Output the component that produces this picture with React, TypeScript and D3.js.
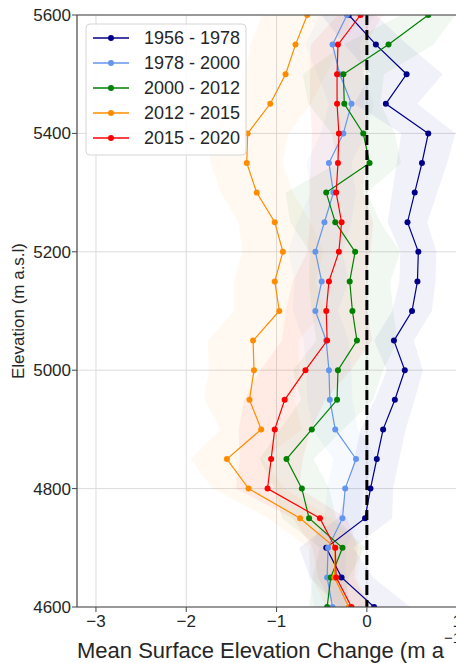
import * as d3 from 'd3';
import React from 'react';

const WIDTH = 456;
const HEIGHT = 663;
const MARGIN = { top: 15, left: 77, bottom: 56 };

// elevation bins, top to bottom (m a.s.l)
const elevations = [
  5600, 5550, 5500, 5450, 5400, 5350, 5300, 5250, 5200, 5150, 5100,
  5050, 5000, 4950, 4900, 4850, 4800, 4750, 4700, 4650, 4600,
];

const periods = ['1956 - 1978', '1978 - 2000', '2000 - 2012', '2012 - 2015', '2015 - 2020'];
const colors = ['#00008b', '#6495ed', '#008000', '#ff8c00', '#ff0000'];

const dh1956 = [-0.2, 0.1, 0.44, 0.21, 0.68, 0.61, 0.53, 0.45, 0.57, 0.56, 0.5, 0.3, 0.42, 0.31, 0.18, 0.11, 0.04, -0.02, -0.45, -0.28, 0.08];
const dh1978 = [-0.22, -0.38, -0.3, -0.17, -0.26, -0.42, -0.37, -0.47, -0.57, -0.5, -0.57, -0.45, -0.42, -0.41, -0.35, -0.12, -0.24, -0.27, -0.43, -0.44, -0.38];
const dh2000 = [0.68, 0.24, -0.26, -0.25, -0.04, 0.03, -0.45, -0.35, -0.13, -0.19, -0.16, -0.11, -0.32, -0.33, -0.61, -0.89, -0.72, -0.64, -0.27, -0.4, -0.44];
const dh2012 = [-0.66, -0.79, -0.9, -1.07, -1.32, -1.33, -1.22, -1.02, -0.93, -1.02, -0.97, -1.26, -1.25, -1.3, -1.17, -1.55, -1.31, -0.74, -0.35, -0.36, -0.2];
const dh2015 = [-0.07, -0.32, -0.33, -0.33, -0.31, -0.32, -0.34, -0.28, -0.31, -0.42, -0.45, -0.44, -0.68, -0.91, -1.02, -1.06, -1.1, -0.52, -0.35, -0.34, -0.17];

// uncertainty (half width of the shaded band)
const err1956 = [0.3, 0.35, 0.4, 0.35, 0.3, 0.28, 0.25, 0.22, 0.2, 0.2, 0.22, 0.22, 0.2, 0.22, 0.25, 0.25, 0.25, 0.3, 0.3, 0.35, 0.4];
const err1978 = [0.3, 0.3, 0.25, 0.25, 0.25, 0.25, 0.25, 0.3, 0.3, 0.3, 0.25, 0.25, 0.25, 0.25, 0.25, 0.25, 0.2, 0.2, 0.2, 0.2, 0.2];
const err2000 = [0.3, 0.5, 0.45, 0.4, 0.35, 0.35, 0.45, 0.5, 0.5, 0.45, 0.45, 0.45, 0.5, 0.4, 0.35, 0.3, 0.3, 0.3, 0.25, 0.2, 0.2];
const err2012 = [0.5, 0.5, 0.45, 0.45, 0.45, 0.4, 0.4, 0.4, 0.45, 0.45, 0.5, 0.5, 0.5, 0.5, 0.45, 0.4, 0.4, 0.35, 0.3, 0.25, 0.25];
const err2015 = [0.25, 0.3, 0.3, 0.3, 0.3, 0.3, 0.3, 0.35, 0.35, 0.4, 0.45, 0.5, 0.5, 0.45, 0.4, 0.35, 0.35, 0.3, 0.25, 0.2, 0.2];

const values = [dh1956, dh1978, dh2000, dh2012, dh2015];
const errors = [err1956, err1978, err2000, err2012, err2015];

const xTicks = [-3, -2, -1, 0, 1];
const yTicks = [4600, 4800, 5000, 5200, 5400, 5600];

const FONT = '"Liberation Sans", Arial, sans-serif';

export default function App() {
  const x = d3.scaleLinear().domain([-3.21, 1.2]).range([MARGIN.left, MARGIN.left + 4.41 * 90.3]);
  const y = d3.scaleLinear().domain([4600, 5600]).range([HEIGHT - MARGIN.bottom, MARGIN.top]);
  const x0 = x.range()[0];
  const x1 = x.range()[1];
  const [yBot, yTop] = y.range();

  const line = d3
    .line<[number, number]>()
    .x(d => x(d[0]))
    .y(d => y(d[1]));

  const area = d3
    .area<[number, number, number]>()
    .y(d => y(d[2]))
    .x0(d => x(d[0] - d[1]))
    .x1(d => x(d[0] + d[1]));

  return (
    <svg width={WIDTH} height={HEIGHT} style={{ position: 'absolute', left: 0, top: 0 }} fontFamily={FONT}>
      <defs>
        <clipPath id="plot">
          <rect x={x0} y={yTop} width={x1 - x0} height={yBot - yTop} />
        </clipPath>
      </defs>
      <rect width={WIDTH} height={HEIGHT} fill="white" />

      {/* grid */}
      {xTicks.map(t => (
        <line key={'gx' + t} x1={x(t)} x2={x(t)} y1={yTop} y2={yBot} stroke="#dcdcdc" strokeWidth={1} />
      ))}
      {yTicks.map(t => (
        <line key={'gy' + t} x1={x0} x2={x1} y1={y(t)} y2={y(t)} stroke="#dcdcdc" strokeWidth={1} />
      ))}

      <g clipPath="url(#plot)">
        {/* uncertainty bands */}
        {values.map((vals, i) => (
          <path
            key={'band' + i}
            d={area(vals.map((v, j) => [v, errors[i][j], elevations[j]] as [number, number, number])) || ''}
            fill={colors[i]}
            fillOpacity={0.055}
            stroke="none"
          />
        ))}
        {/* lines and markers */}
        {values.map((vals, i) => (
          <g key={'s' + i}>
            <path
              d={line(vals.map((v, j) => [v, elevations[j]] as [number, number])) || ''}
              fill="none"
              stroke={colors[i]}
              strokeWidth={1.2}
            />
            {vals.map((v, j) => (
              <circle key={j} cx={x(v)} cy={y(elevations[j])} r={3} fill={colors[i]} />
            ))}
          </g>
        ))}
        <line x1={x(0)} x2={x(0)} y1={yTop} y2={yBot} stroke="black" strokeWidth={3} strokeDasharray="10,5" />
      </g>

      {/* spines */}
      <line x1={x0} x2={x0} y1={yTop} y2={yBot} stroke="#444" strokeWidth={1.2} />
      <line x1={x0} x2={x1} y1={yBot} y2={yBot} stroke="#444" strokeWidth={1.2} />
      <line x1={x0} x2={x1} y1={yTop} y2={yTop} stroke="#444" strokeWidth={1.2} />

      {/* y ticks */}
      {yTicks.map(t => (
        <g key={'yt' + t}>
          <line x1={x0 - 5} x2={x0} y1={y(t)} y2={y(t)} stroke="#444" strokeWidth={1} />
          <text x={x0 - 6} y={y(t)} dy="0.35em" textAnchor="end" fontSize={17} fill="#262626">
            {t}
          </text>
        </g>
      ))}
      {/* x ticks */}
      {xTicks.map(t => (
        <g key={'xt' + t}>
          <line x1={x(t)} x2={x(t)} y1={yBot} y2={yBot + 5} stroke="#444" strokeWidth={1} />
          <text x={x(t)} y={yBot + 20} textAnchor="middle" fontSize={17} fill="#262626">
            {t < 0 ? '\u2212' + Math.abs(t) : t}
          </text>
        </g>
      ))}

      <text
        transform={`translate(24,${(yTop + yBot) / 2}) rotate(-90)`}
        textAnchor="middle"
        fontSize={17}
        fill="#262626"
      >
        Elevation (m a.s.l)
      </text>
      <text x={x0} y={658} fontSize={22} fill="#262626">
        Mean Surface Elevation Change (m a
        <tspan dy={-15} fontSize={15}>
          {'\u22121)'}
        </tspan>
      </text>

      {/* legend */}
      <g>
        <rect x={86} y={24} width={160} height={131} rx={4} fill="white" fillOpacity={0.85} stroke="#d6d6d6" />
        {periods.map((p, i) => {
          const ly = 38 + i * 25;
          return (
            <g key={'lg' + i}>
              <line x1={93} x2={129} y1={ly} y2={ly} stroke={colors[i]} strokeWidth={1.5} />
              <circle cx={111} cy={ly} r={3} fill={colors[i]} />
              <text x={144} y={ly} dy="0.35em" fontSize={18} fill="#262626">
                {p}
              </text>
            </g>
          );
        })}
      </g>
    </svg>
  );
}
